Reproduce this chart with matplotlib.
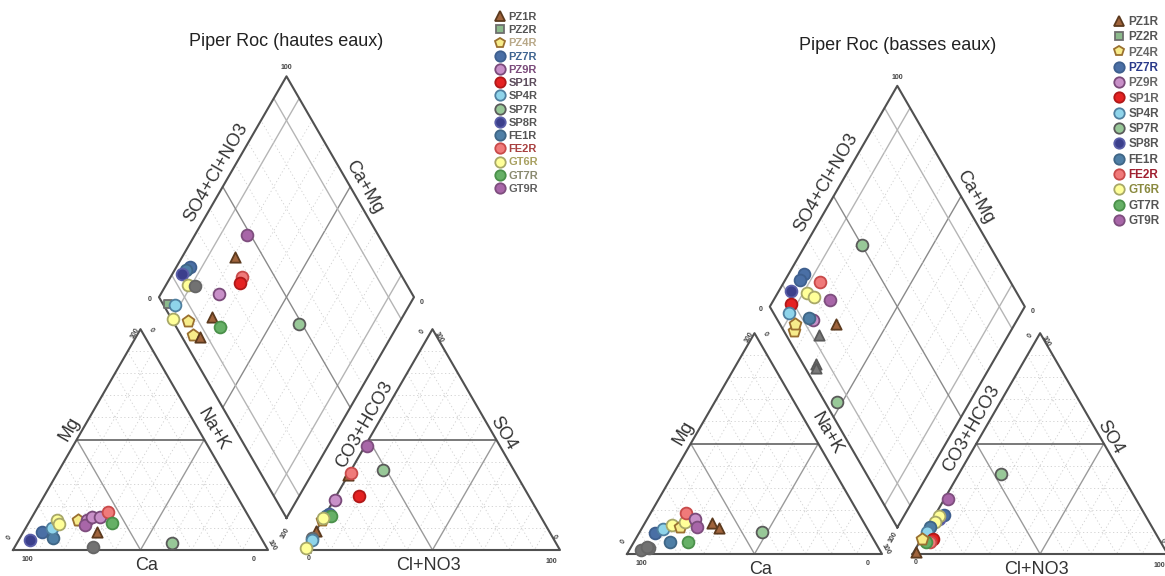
import numpy as np
import matplotlib.pyplot as plt
from matplotlib.lines import Line2D

plt.rcParams['font.family'] = ['Liberation Sans', 'DejaVu Sans']

W, HPX = 1165, 576
S = 2.55            # pixels per percent unit
H = np.sqrt(3) / 2

# legend entries and their styles
noms = ["PZ1R", "PZ2R", "PZ4R", "PZ7R", "PZ9R", "SP1R", "SP4R",
        "SP7R", "SP8R", "FE1R", "FE2R", "GT6R", "GT7R", "GT9R"]
marqueurs = ['^', 's', 'p', 'o', 'o', 'o', 'o', 'o', 'o', 'o', 'o', 'o', 'o', 'o']
faces = ['#a0643c', '#8cba8c', '#f7ec8a', '#4a6fa5', '#c890c8', '#e52222', '#8fd4ea',
         '#98c898', '#3b3f8c', '#4f7fa6', '#f07a7a', '#ffff99', '#66b066', '#a866a8']
bords = ['#5c3a1e', '#6e6e6e', '#9a7030', '#3e5f8e', '#7a4a7a', '#b01818', '#4f7f9f',
         '#5a5a5a', '#5a5ea8', '#3f6686', '#c84a4a', '#a8a868', '#4a904a', '#7e4e7e']
txt_he = ['#555555', '#555555', '#b8a888', '#3f6490', '#7a4a7a', '#5a4a5a', '#555555',
          '#555555', '#555555', '#555555', '#a84040', '#a8a060', '#8a8a70', '#606060']
txt_be = ['#555555', '#555555', '#666666', '#2a3a8a', '#666666', '#666666', '#555555',
          '#555555', '#555555', '#555555', '#a02030', '#8a8a40', '#555555', '#555555']

# hautes eaux : cations (Mg, Na+K), anions (SO4, Cl+NO3), losange (Ca+Mg, SO4+Cl+NO3)
cat_he = [("SP8R", 4.5, 4.4), ("PZ7R", 8.3, 7.1), ("FE1R", 5.3, 13.2), ("SP4R", 9.8, 10.3),
          ("GT6R", 13.6, 10.3), ("GT6R", 11.8, 12.0), ("PZ4R", 13.6, 18.8), ("PZ9R", 13.6, 22.1),
          ("GT9R", 11.3, 22.6), ("PZ9R", 15.1, 23.3), ("PZ9R", 15.1, 26.6), ("FE2R", 17.3, 28.7),
          ("GT7R", 12.1, 32.6), ("PZ1R", 8.3, 28.7), ("gris", 1.5, 30.7), ("SP7R", 3.0, 60.7)]
an_he = [("GT9R", 47.0, 1.0), ("PZ1R", 34.0, 0.0), ("FE2R", 35.0, 0.5), ("SP7R", 36.3, 12.5),
         ("SP1R", 24.3, 9.2), ("PZ9R", 22.8, 0.5), ("PZ7R", 16.5, 1.0), ("SP8R", 16.0, 2.0),
         ("FE1R", 15.5, 0.5), ("GT7R", 15.3, 2.5), ("PZ4R", 13.5, 0.0), ("GT6R", 14.5, 0.0),
         ("PZ1R", 8.5, 0.0), ("gris", 5.4, 0.0), ("SP4R", 4.7, 0.5), ("PZ2R", 0.5, 0.5),
         ("GT6R", 1.0, 0.0)]
dia_he = [("GT9R", 79.5, 48.6), ("PZ1R", 79.2, 39.0), ("FE2R", 72.0, 37.0), ("SP1R", 71.3, 35.0),
          ("PZ7R", 94.7, 19.0), ("FE1R", 95.5, 17.0), ("SP8R", 96.4, 14.3), ("GT6R", 91.3, 14.4),
          ("gris", 88.3, 16.6), ("PZ9R", 77.3, 24.0), ("PZ2R", 94.9, 2.2), ("SP4R", 91.9, 4.5),
          ("GT6R", 89.4, 0.7), ("PZ4R", 83.0, 6.1), ("PZ4R", 78.0, 5.0), ("PZ1R", 74.8, 16.3),
          ("PZ1R", 74.9, 7.2), ("GT7R", 69.3, 17.3), ("SP7R", 39.0, 49.0)]

# basses eaux
cat_be = [("gris", 2.0, 4.5), ("gris", 2.5, 7.5), ("gris", 3.3, 6.1), ("PZ7R", 9.4, 6.3),
          ("SP4R", 11.2, 8.6), ("GT6R", 13.1, 11.0), ("PZ4R", 12.4, 14.6), ("GT6R", 14.6, 15.4),
          ("FE2R", 18.7, 13.8), ("PZ9R", 15.7, 18.8), ("GT9R", 12.4, 21.4), ("PZ1R", 13.9, 26.3),
          ("PZ1R", 11.6, 30.1), ("FE1R", 5.6, 14.1), ("GT7R", 5.6, 21.2), ("SP7R", 10.1, 47.8)]
an_be = [("SP7R", 36.1, 16.7), ("GT9R", 25.0, 1.3), ("PZ7R", 17.5, 3.5), ("SP8R", 16.0, 2.5),
         ("GT6R", 17.0, 2.0), ("GT6R", 14.5, 1.5), ("FE1R", 12.0, 1.0), ("SP4R", 10.0, 0.5),
         ("SP1R", 7.0, 4.5), ("FE2R", 5.5, 4.0), ("GT7R", 5.4, 2.7), ("PZ4R", 7.0, 0.0),
         ("PZ1R", 1.0, 1.0)]
dia_be = [("SP7R", 78.0, 50.0), ("SP7R", 52.0, 5.0), ("PZ7R", 94.0, 21.0), ("PZ7R", 94.0, 18.0),
          ("FE2R", 86.0, 25.0), ("SP8R", 95.0, 12.0), ("GT6R", 88.4, 17.6), ("GT6R", 85.0, 19.4),
          ("GT9R", 78.0, 25.0), ("PZ9R", 80.0, 14.0), ("SP1R", 92.0, 9.0), ("SP4R", 91.0, 6.0),
          ("FE1R", 82.0, 13.0), ("PZ4R", 85.0, 4.0), ("PZ4R", 86.0, 6.0), ("PZ1R", 70.0, 22.0),
          ("gris_tri", 74.5, 12.7), ("gris_tri", 69.0, 5.0), ("gris_tri", 68.0, 4.0)]

style = {n: (m, f, b) for n, m, f, b in zip(noms, marqueurs, faces, bords)}
style["gris"] = ('o', '#727272', '#666666')
style["gris_tri"] = ('^', '#7a7a7a', '#5a5a5a')
taille = {'o': 72, 'p': 80, '^': 55, 's': 40}

fig = plt.figure(figsize=(W / 100, HPX / 100), dpi=100)


def segs(ax, v, u, w, fracs, **kw):
    # lines at fraction f from vertex v, parallel to the edge u-w
    for f in fracs:
        p, q = v + f * (u - v), v + f * (w - v)
        ax.plot([p[0], q[0]], [p[1], q[1]], **kw)


def triangle(ax, x0):
    p0 = np.array([x0, 0.0]); p1 = np.array([x0 + 100, 0.0]); p2 = np.array([x0 + 50, 100 * H])
    fr = [0.1, 0.2, 0.3, 0.4, 0.6, 0.7, 0.8, 0.9]
    for v, u, w in [(p0, p1, p2), (p1, p2, p0), (p2, p0, p1)]:
        segs(ax, v, u, w, fr, color='#cfcfcf', lw=0.6, ls=(0, (1.5, 3)), zorder=1)
    segs(ax, p0, p1, p2, [0.5], color='#9a9a9a', lw=1.0, zorder=1)
    segs(ax, p1, p2, p0, [0.5], color='#9a9a9a', lw=1.0, zorder=1)
    segs(ax, p2, p0, p1, [0.5], color='#555555', lw=1.1, zorder=1)
    pts = np.array([p0, p1, p2, p0])
    ax.plot(pts[:, 0], pts[:, 1], color='#505050', lw=1.5, zorder=2)


def losange(ax, g):
    b = np.array([100 + g / 2, g * H])
    u = np.array([-50, 100 * H]); w = np.array([50, 100 * H])
    for d1, d2 in [(u, w), (w, u)]:
        for f in [0.2, 0.3, 0.4, 0.6, 0.7, 0.8]:
            p = b + f * d1
            ax.plot([p[0], p[0] + d2[0]], [p[1], p[1] + d2[1]], color='#cfcfcf', lw=0.6,
                    ls=(0, (1.5, 3)), zorder=1)
        for f, c in [(0.1, '#b5b5b5'), (0.9, '#b5b5b5'), (0.5, '#8a8a8a')]:
            p = b + f * d1
            ax.plot([p[0], p[0] + d2[0]], [p[1], p[1] + d2[1]], color=c, lw=1.0, zorder=1)
    pts = np.array([b, b + u, b + u + w, b + w, b])
    ax.plot(pts[:, 0], pts[:, 1], color='#505050', lw=1.5, zorder=2)


def points(ax, liste, conv):
    for nom, v1, v2 in liste:
        m, f, e = style[nom]
        x, y = conv(v1, v2)
        ax.scatter(x, y, marker=m, s=taille[m], c=f, edgecolors=e, linewidths=1.3, zorder=4)


def petit(ax, x, y, s, rot=0):
    ax.text(x, y, s, rotation=rot, ha='center', va='center', fontsize=5, color='#444444',
            fontweight='bold')


def grand(ax, x, y, s, rot=0):
    ax.text(x, y, s, rotation=rot, ha='center', va='center', fontsize=13, color='#333333')


def piper(x0, x1, ox, oy, g, titre, cat, an, dia, coul_txt, leg_xy, leg_fs, leg_sp):
    ax = fig.add_axes([x0 / W, 0, (x1 - x0) / W, 1])
    ax.set_xlim((x0 - ox) / S, (x1 - ox) / S)
    ax.set_ylim((oy - HPX) / S, oy / S)
    ax.axis('off')

    xa = 100 + g
    triangle(ax, 0)
    triangle(ax, xa)
    losange(ax, g)
    bx, by = 100 + g / 2, g * H

    points(ax, cat, lambda mg, nak: (nak + mg / 2, mg * H))
    points(ax, an, lambda so4, cl: (xa + cl + so4 / 2, so4 * H))
    points(ax, dia, lambda cm, sc: (bx + (sc - cm) / 2, by + H * (sc + cm)))

    # axis names
    grand(ax, 22.0, 47.5, "Mg", 60)
    grand(ax, 78.2, 47.3, "Na+K", -60)
    grand(ax, 52.5, -6.2, "Ca")
    grand(ax, xa + 23.2, 49.2, "CO3+HCO3", 60)
    grand(ax, xa + 77.6, 45.8, "SO4", -60)
    grand(ax, xa + 48.5, -6.2, "Cl+NO3")
    grand(ax, bx - 27.8, by + 135.4, "SO4+Cl+NO3", 60)
    grand(ax, bx + 30.5, by + 129.6, "Ca+Mg", -60)

    # scale values
    petit(ax, 5.5, -3.9, "100")
    petit(ax, 94.5, -3.6, "0")
    petit(ax, -1.5, 5.0, "0", 60)
    petit(ax, 47.8, 85.0, "100", 60)
    petit(ax, 54.0, 86.3, "0", -60)
    petit(ax, 101.5, 2.0, "100", -60)
    petit(ax, xa + 1.3, -3.3, "0")
    petit(ax, xa + 96.7, -4.6, "100")
    petit(ax, xa + 97.7, 5.2, "0", -60)
    petit(ax, xa + 46.2, 85.6, "0", 60)
    petit(ax, xa + 52.3, 83.6, "100", -60)
    petit(ax, xa - 7.8, 6.5, "100", 60)
    petit(ax, bx, by + 176.5, "100")
    petit(ax, bx - 53.5, by + 85.6, "0")
    petit(ax, bx + 53.0, by + 84.6, "0")

    ax.text(bx, 199.5, titre, ha='center', va='center', fontsize=13, color='#222222')

    poignees = [Line2D([], [], ls='', marker=m, ms=7.5 if m != 's' else 5.5, mfc=f, mec=e, mew=1.3)
                for m, f, e in zip(marqueurs, faces, bords)]
    ax.legend(poignees, noms, loc='upper left', bbox_to_anchor=(leg_xy[0] / W, 1 - leg_xy[1] / HPX),
              bbox_transform=fig.transFigure, frameon=False, labelspacing=leg_sp,
              handletextpad=0.3, handlelength=1.0, borderpad=0, borderaxespad=0,
              labelcolor=coul_txt, prop={'weight': 'bold', 'size': leg_fs})
    return ax


piper(0, 583, 13, 550, 14.5, "Piper Roc (hautes eaux)", cat_he, an_he, dia_he,
      txt_he, (494, 12), 8, 0.29)
piper(583, 1165, 627, 554, 12.0, "Piper Roc (basses eaux)", cat_be, an_be, dia_be,
      txt_be, (1113, 16), 8.5, 0.28)

fig.savefig("out.png", dpi=100)
